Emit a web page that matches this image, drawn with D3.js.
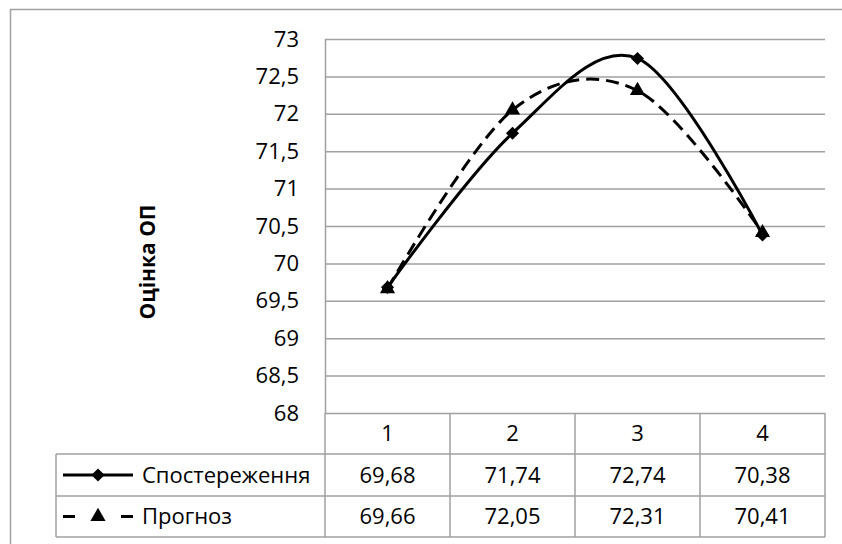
<!DOCTYPE html>
<html><head><meta charset="utf-8">
<script src="https://cdn.jsdelivr.net/npm/d3@7"></script>
<style>html,body{margin:0;padding:0;background:#fff;} svg{display:block;}</style>
</head><body>
<script>
const categories = ["1", "2", "3", "4"];
const seriesNames = ["Спостереження", "Прогноз"];
const observed = [69.68, 71.74, 72.74, 70.38];
const forecast = [69.66, 72.05, 72.31, 70.41];
const yTicks = [68, 68.5, 69, 69.5, 70, 70.5, 71, 71.5, 72, 72.5, 73];
const yTitle = "Оцінка ОП";

const W = 842, H = 544;
const FONT = "'Open Sans', sans-serif";
const FS = 22;
const grid = "#a0a0a0";
const svg = d3.select("body").append("svg").attr("width", W).attr("height", H);

// outer frame
svg.append("rect").attr("x", 10.5).attr("y", 9.5).attr("width", 840).attr("height", 540)
  .attr("fill", "#fff").attr("stroke", grid).attr("stroke-width", 1.5);

const plot = {left: 325, right: 825, top: 39, bottom: 413};
const x = d3.scaleBand().domain(categories).range([plot.left, plot.right]);
const y = d3.scaleLinear().domain([68, 73]).range([plot.bottom, plot.top]);
const fmt = v => String(v).replace(".", ",");
const fmt2 = v => d3.format(".2f")(v).replace(".", ",");

// y axis with gridlines
const yAxis = d3.axisLeft(y).tickValues(yTicks).tickFormat(fmt).tickSize(-(plot.right - plot.left)).tickPadding(26);
const ga = svg.append("g").attr("transform", `translate(${plot.left},0)`).call(yAxis);
ga.select(".domain").attr("stroke", grid).attr("stroke-width", 1.5).attr("d", `M0.5,${plot.top}V${plot.bottom}`);
ga.selectAll(".tick line").attr("stroke", grid).attr("stroke-width", 1.5);
ga.selectAll(".tick text").attr("font-family", FONT).attr("font-size", FS).attr("fill", "#000");

// y title
svg.append("text").attr("transform", `translate(155,262) rotate(-90)`).attr("text-anchor", "middle")
  .attr("font-family", FONT).attr("font-size", 21).attr("font-weight", "bold").text(yTitle);

// data table
const rowY = [413, 454, 496, 537];
const tableLeft = 56;
const tg = svg.append("g").attr("stroke", grid).attr("stroke-width", 1.5);
[1, 2, 3].forEach(r => tg.append("line").attr("x1", tableLeft).attr("x2", plot.right).attr("y1", rowY[r]).attr("y2", rowY[r]));
tg.append("line").attr("x1", tableLeft).attr("x2", tableLeft).attr("y1", rowY[1]).attr("y2", rowY[3]);
const vx = categories.map(c => x(c)).concat([plot.right]);
vx.forEach(v => tg.append("line").attr("x1", v).attr("x2", v).attr("y1", rowY[0]).attr("y2", rowY[3]));

// header labels
svg.append("g").selectAll("text").data(categories).join("text")
  .attr("x", d => x(d) + x.bandwidth() / 2).attr("y", (rowY[0] + rowY[1]) / 2)
  .attr("dy", "0.35em").attr("text-anchor", "middle")
  .attr("font-family", FONT).attr("font-size", FS).text(d => d);

const allSeries = [observed, forecast];
allSeries.forEach((vals, si) => {
  svg.append("g").selectAll("text").data(vals).join("text")
    .attr("x", (d, i) => x(categories[i]) + x.bandwidth() / 2)
    .attr("y", (rowY[si + 1] + rowY[si + 2]) / 2)
    .attr("dy", "0.35em").attr("text-anchor", "middle")
    .attr("font-family", FONT).attr("font-size", FS).text(d => fmt2(d));
  svg.append("text").attr("x", 142).attr("y", (rowY[si + 1] + rowY[si + 2]) / 2)
    .attr("dy", "0.35em").attr("font-family", FONT).attr("font-size", FS).text(seriesNames[si]);
});

// lines
const line = d3.line().x((d, i) => x(categories[i]) + x.bandwidth() / 2).y(d => y(d))
  .curve(d3.curveCardinal.tension(0));
svg.append("path").datum(forecast).attr("d", line).attr("fill", "none").attr("stroke", "#000")
  .attr("stroke-width", 3).attr("stroke-dasharray", "13,7");
svg.append("path").datum(observed).attr("d", line).attr("fill", "none").attr("stroke", "#000")
  .attr("stroke-width", 3);

const diamond = d3.symbol().type(d3.symbolDiamond2).size(110);
const tri = d3.symbol().type(d3.symbolTriangle).size(100);
svg.append("g").selectAll("path").data(forecast).join("path")
  .attr("transform", (d, i) => `translate(${x(categories[i]) + x.bandwidth() / 2},${y(d)})`)
  .attr("d", tri).attr("fill", "#000");
svg.append("g").selectAll("path").data(observed).join("path")
  .attr("transform", (d, i) => `translate(${x(categories[i]) + x.bandwidth() / 2},${y(d)})`)
  .attr("d", diamond).attr("fill", "#000");

// legend keys
const ly1 = (rowY[1] + rowY[2]) / 2, ly2 = (rowY[2] + rowY[3]) / 2;
svg.append("line").attr("x1", 63).attr("x2", 133).attr("y1", ly1).attr("y2", ly1).attr("stroke", "#000").attr("stroke-width", 3);
svg.append("path").attr("transform", `translate(98,${ly1})`).attr("d", diamond).attr("fill", "#000");
svg.append("line").attr("x1", 63).attr("x2", 75).attr("y1", ly2).attr("y2", ly2).attr("stroke", "#000").attr("stroke-width", 3);
svg.append("line").attr("x1", 121).attr("x2", 133).attr("y1", ly2).attr("y2", ly2).attr("stroke", "#000").attr("stroke-width", 3);
svg.append("path").attr("transform", `translate(98,${ly2})`).attr("d", tri).attr("fill", "#000");
</script>
</body></html>
